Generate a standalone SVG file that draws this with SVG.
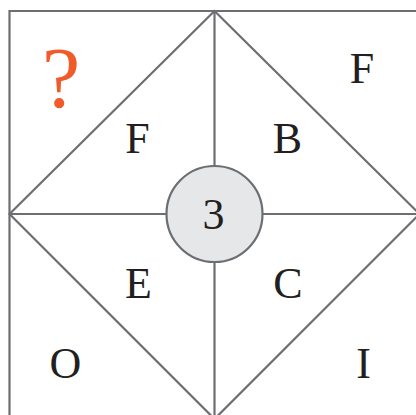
<svg xmlns="http://www.w3.org/2000/svg" width="416" height="415" viewBox="0 0 416 415">
<style>
.ln{stroke:#6d6e71;stroke-width:2.2;fill:none}
.t{font-family:"Liberation Serif","Times New Roman",serif;font-size:44px;fill:#231f20;text-anchor:middle}
</style>
<rect width="416" height="415" fill="#ffffff"/>
<g id="connectors">
<polyline class="ln" points="9.5,430 9.5,11 430,11"/>
<polygon class="ln" points="214.5,11 419.5,214 214.5,419 9.5,214"/>
<line class="ln" x1="214.5" y1="11" x2="214.5" y2="419"/>
<line class="ln" x1="9.5" y1="214" x2="419.5" y2="214"/>
</g>
<g id="center">
<circle cx="214.5" cy="214" r="48" fill="#e6e7e8" stroke="#6d6e71" stroke-width="2.2"/>
<text class="t" x="213.5" y="229">3</text>
</g>
<g id="q"><text x="61" y="107" font-family="Liberation Serif,serif" font-size="86" fill="#f15a29" text-anchor="middle">?</text></g>
<g id="F1"><text class="t" x="137.5" y="153">F</text></g>
<g id="B"><text class="t" x="287.5" y="153">B</text></g>
<g id="E"><text class="t" x="138.5" y="298">E</text></g>
<g id="C"><text class="t" x="288" y="298">C</text></g>
<g id="F2"><text class="t" x="362" y="83">F</text></g>
<g id="O"><text class="t" x="65.5" y="378">O</text></g>
<g id="I"><text class="t" x="363.5" y="378">I</text></g>
</svg>
